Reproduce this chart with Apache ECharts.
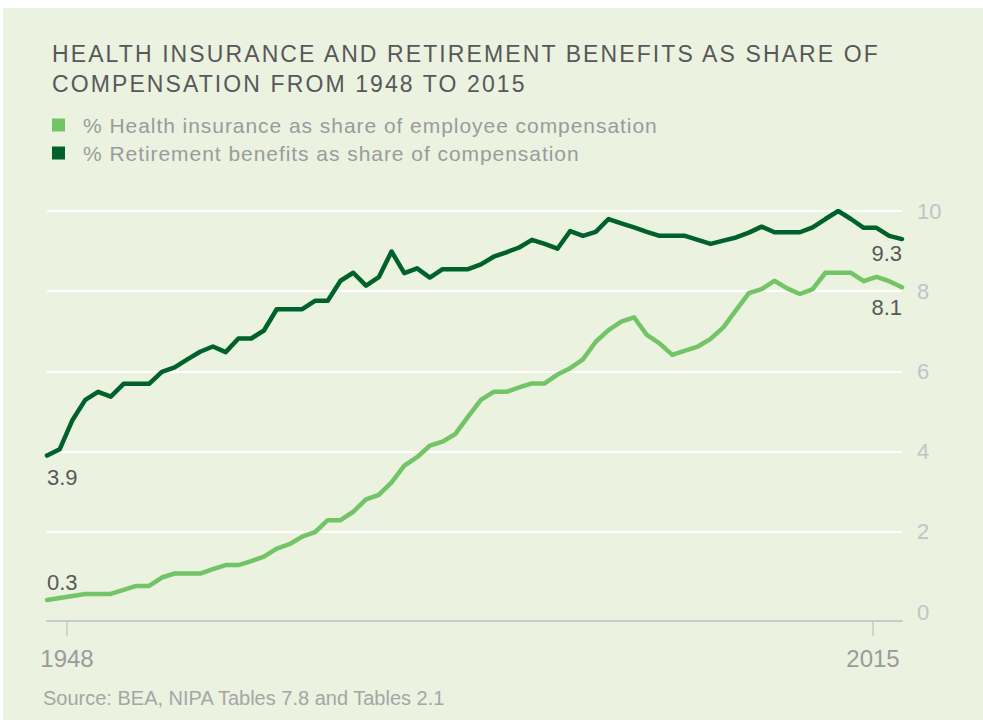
<!DOCTYPE html>
<html>
<head>
<meta charset="utf-8">
<script src="https://cdn.jsdelivr.net/npm/echarts@6/dist/echarts.min.js"></script>
<style>
  html, body { margin: 0; padding: 0; background: #ffffff; }
  #main-chart { position: absolute; left: 3px; top: 8px; width: 980px; height: 712px; }
  /* the original title and legend are set with a little tracking */
  #main-chart svg text[style*="23px"] { letter-spacing: 2.1px; }
  #main-chart svg text[style*="21px"] { letter-spacing: 0.95px; }
</style>
</head>
<body>
<div id="main-chart"></div>
<script>
// years shown on the chart
const years = [
    1948, 1949, 1950, 1951, 1952, 1953, 1954, 1955, 1956, 1957,
    1958, 1959, 1960, 1961, 1962, 1963, 1964, 1965, 1966, 1967,
    1968, 1969, 1970, 1971, 1972, 1973, 1974, 1975, 1976, 1977,
    1978, 1979, 1980, 1981, 1982, 1983, 1984, 1985, 1986, 1987,
    1988, 1989, 1990, 1991, 1992, 1993, 1994, 1995, 1996, 1997,
    1998, 1999, 2000, 2001, 2002, 2003, 2004, 2005, 2006, 2007,
    2008, 2009, 2010, 2011, 2012, 2013, 2014, 2015
];
// % health insurance as share of employee compensation
const health = [
    0.3, 0.35, 0.4, 0.45, 0.45, 0.45, 0.55, 0.65, 0.65, 0.86,
    0.96, 0.96, 0.96, 1.07, 1.17, 1.17, 1.27, 1.38, 1.58, 1.69,
    1.88, 1.99, 2.29, 2.29, 2.5, 2.81, 2.92, 3.23, 3.65, 3.86,
    4.15, 4.25, 4.44, 4.87, 5.29, 5.49, 5.49, 5.6, 5.7, 5.7,
    5.92, 6.08, 6.3, 6.74, 7.03, 7.24, 7.35, 6.91, 6.7, 6.41,
    6.52, 6.62, 6.81, 7.1, 7.53, 7.95, 8.05, 8.26, 8.07, 7.93,
    8.05, 8.46, 8.46, 8.46, 8.25, 8.36, 8.25, 8.1
];
// % retirement benefits as share of compensation
const retirement = [
    3.9, 4.06, 4.79, 5.29, 5.49, 5.37, 5.69, 5.69, 5.69, 5.99,
    6.1, 6.3, 6.49, 6.62, 6.48, 6.82, 6.82, 7.02, 7.55, 7.55,
    7.55, 7.76, 7.76, 8.26, 8.46, 8.14, 8.35, 8.99, 8.45, 8.57,
    8.34, 8.55, 8.55, 8.55, 8.67, 8.86, 8.97, 9.09, 9.28, 9.18,
    9.06, 9.5, 9.38, 9.48, 9.8, 9.69, 9.59, 9.48, 9.38, 9.38,
    9.38, 9.28, 9.18, 9.26, 9.34, 9.46, 9.61, 9.47, 9.47, 9.47,
    9.59, 9.8, 10.0, 9.8, 9.58, 9.58, 9.38, 9.3
];
const yTicks = [0, 2, 4, 6, 8, 10];
const xTicks = [1948, 2015];
const seriesNames = [
    '% Health insurance as share of employee compensation',
    '% Retirement benefits as share of compensation'
];

const color = ['#72c466', '#00612a'];
const textGrey = '#9b9b9b';
const fontFamily = '"Liberation Sans", Arial, sans-serif';

// first / last point carry a value label
function withEndLabels(values, first, last) {
    return values.map((v, i) => {
        if (i === 0) return { value: v, label: Object.assign({ show: true }, first) };
        if (i === values.length - 1) return { value: v, label: Object.assign({ show: true }, last) };
        return v;
    });
}

const labelText = {
    color: '#58585a',
    fontSize: 22,
    fontFamily: fontFamily
};

let chart = echarts.init(document.getElementById('main-chart'), null, { renderer: 'svg' });

chart.setOption({
    backgroundColor: '#ebf2df',
    animation: false,
    title: [{
        text: 'HEALTH INSURANCE AND RETIREMENT BENEFITS AS SHARE OF\nCOMPENSATION FROM 1948 TO 2015',
        left: 44,
        top: 26,
        textStyle: {
            color: '#58585a',
            fontSize: 23,
            fontWeight: 'normal',
            lineHeight: 30,
            fontFamily: fontFamily
        }
    }, {
        text: 'Source: BEA, NIPA Tables 7.8 and Tables 2.1',
        left: 40,
        top: 680,
        padding: 0,
        textStyle: {
            color: '#a6a6a6',
            fontSize: 20,
            fontWeight: 'normal',
            fontFamily: fontFamily
        }
    }],
    legend: {
        orient: 'vertical',
        left: 49,
        top: 106,
        padding: 0,
        icon: 'rect',
        itemWidth: 13,
        itemHeight: 13,
        itemGap: 6,
        selectedMode: false,
        data: seriesNames,
        textStyle: {
            color: textGrey,
            fontSize: 21,
            lineHeight: 22,
            padding: [0, 0, 0, 13],
            fontFamily: fontFamily
        }
    },
    grid: {
        left: 44,
        right: 81,
        top: 203,
        bottom: 108
    },
    xAxis: [{
        type: 'category',
        position: 'top',
        data: years,
        boundaryGap: false,
        show: false
    }, {
        // only carries the two year ticks under the plot
        type: 'value',
        position: 'bottom',
        min: 1946.34,
        max: 2017.41,
        offset: 9,
        axisLine: { show: true, lineStyle: { color: '#c9c9c9', width: 2 } },
        axisTick: { show: true, customValues: xTicks, length: 15, lineStyle: { color: '#c9c9c9', width: 1.5 } },
        axisLabel: {
            customValues: xTicks,
            margin: 25,
            color: textGrey,
            fontSize: 24,
            fontFamily: fontFamily,
            formatter: v => String(v)
        },
        splitLine: { show: false }
    }],
    yAxis: {
        type: 'value',
        position: 'right',
        min: yTicks[0],
        max: yTicks[yTicks.length - 1],
        interval: 2,
        axisLine: { show: false },
        axisTick: { show: false },
        axisLabel: {
            margin: 15,
            color: '#c2c3ca',
            fontSize: 22,
            fontFamily: fontFamily
        },
        splitLine: {
            show: true,
            showMinLine: false,
            lineStyle: { color: '#ffffff', width: 2 }
        }
    },
    series: [{
        name: seriesNames[0],
        type: 'line',
        xAxisIndex: 0,
        color: color[0],
        symbol: 'circle',
        symbolSize: 0,
        showSymbol: true,
        lineStyle: { width: 4.5, color: color[0], cap: 'round', join: 'round' },
        label: { show: false },
        data: withEndLabels(health,
            Object.assign({ position: 'top', align: 'left', distance: 6 }, labelText),
            Object.assign({ position: 'bottom', align: 'right', distance: 9 }, labelText))
    }, {
        name: seriesNames[1],
        type: 'line',
        xAxisIndex: 0,
        color: color[1],
        symbol: 'circle',
        symbolSize: 0,
        showSymbol: true,
        lineStyle: { width: 4.5, color: color[1], cap: 'round', join: 'round' },
        label: { show: false },
        data: withEndLabels(retirement,
            Object.assign({ position: 'bottom', align: 'left', distance: 11 }, labelText),
            Object.assign({ position: 'bottom', align: 'right', distance: 3 }, labelText))
    }]
});

window.addEventListener('resize', function () {
    chart.resize();
});
</script>
</body>
</html>
